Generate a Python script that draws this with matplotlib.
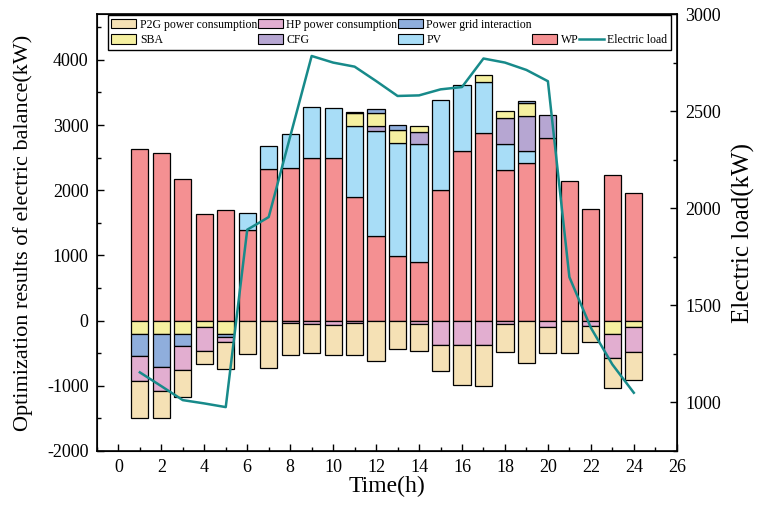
import numpy as np
import matplotlib
matplotlib.use('Agg')
import matplotlib.pyplot as plt
from matplotlib.patches import Patch
from matplotlib.lines import Line2D
from matplotlib.ticker import MultipleLocator

plt.rcParams.update({
    'font.family': ['Liberation Serif', 'DejaVu Serif'],
    'axes.unicode_minus': False,
})

# hours
hours = np.arange(1, 25)

# supply side (kW, positive)
wp = [2636, 2564, 2176, 1640, 1701, 1390, 2330, 2340, 2493, 2488, 1900, 1298,
      991, 904, 2003, 2605, 2881, 2314, 2411, 2809, 2135, 1716, 2227, 1957]
pv = [0, 0, 0, 0, 0, 255, 352, 521, 782, 772, 1084, 1618,
      1732, 1798, 1374, 1012, 777, 394, 194, 0, 0, 0, 0, 0]
cfg = [0, 0, 0, 0, 0, 0, 0, 0, 0, 0, 0, 62,
       0, 190, 0, 0, 0, 403, 537, 338, 0, 0, 0, 0]
# signed: + discharge / purchase, - charge / sale
sba = [-204, -204, -200, -102, -200, 0, 0, 0, 0, 0, 204, 203,
       204, 92, 0, 0, 107, 107, 200, 0, 0, 0, -204, -97]
grid = [-343, -506, -188, 0, -50, 0, 0, 0, 0, 0, 15, 72,
        77, 0, 0, 0, 0, 0, 20, 0, 0, 0, 0, 0]
# consumption side (kW, negative)
hp = [-373, -368, -368, -368, -77, 0, 0, -41, -56, -72, -41, 0,
      0, -51, -373, -373, -373, -51, 0, -92, 0, -82, -368, -378]
p2g = [-572, -414, -414, -194, -409, -516, -730, -480, -445, -449, -480, -623,
       -434, -419, -399, -614, -623, -429, -655, -409, -501, -250, -465, -434]

# electric load (kW, right axis)
load = [1155, 1084, 1012, 995, 976, 1890, 1955, 2370, 2785, 2751, 2730, 2656,
        2579, 2582, 2613, 2625, 2772, 2751, 2713, 2655, 1646, 1385, 1196, 1050]

colors = {
    'P2G power consumption': '#F5E1B5',
    'HP power consumption': '#E2AED0',
    'Power grid interaction': '#8FAEDC',
    'SBA': '#F5F0A0',
    'CFG': '#B6A6D2',
    'PV': '#A8DDF7',
    'WP': '#F49092',
}
line_color = '#178A8A'

fig = plt.figure(figsize=(7.57, 5.09), dpi=100)
ax = fig.add_axes([0.128, 0.114, 0.766, 0.858])

w = 0.8
bar_kw = dict(width=w, edgecolor='black', linewidth=0.9, zorder=2)

pos_base = np.zeros(24)
neg_base = np.zeros(24)

# positive stack: WP, PV, CFG, SBA(+), grid(+)
for name, vals in [('WP', wp), ('PV', pv), ('CFG', cfg)]:
    v = np.array(vals, dtype=float)
    m = v > 0
    ax.bar(hours[m], v[m], bottom=pos_base[m], color=colors[name], **bar_kw)
    pos_base += v

for name, vals in [('SBA', sba), ('Power grid interaction', grid)]:
    v = np.array(vals, dtype=float)
    p = np.clip(v, 0, None)
    m = p > 0
    ax.bar(hours[m], p[m], bottom=pos_base[m], color=colors[name], **bar_kw)
    pos_base += p

# negative stack: SBA(-), grid(-), HP, P2G
for name, vals in [('SBA', sba), ('Power grid interaction', grid),
                   ('HP power consumption', hp), ('P2G power consumption', p2g)]:
    v = np.array(vals, dtype=float)
    n = np.clip(v, None, 0)
    m = n < 0
    ax.bar(hours[m], n[m], bottom=neg_base[m], color=colors[name], **bar_kw)
    neg_base += n

ax.set_xlim(-1, 26)
ax.set_ylim(-2000, 4700)
ax.xaxis.set_major_locator(MultipleLocator(2))
ax.xaxis.set_minor_locator(MultipleLocator(1))
ax.yaxis.set_major_locator(MultipleLocator(1000))
ax.yaxis.set_minor_locator(MultipleLocator(500))
ax.tick_params(which='major', direction='in', length=5, width=1, labelsize=13, pad=6)
ax.tick_params(which='minor', direction='in', length=3, width=1)
ax.set_xlabel('Time(h)', fontsize=17, labelpad=0)
ax.set_ylabel('Optimization results of electric balance(kW)', fontsize=16, labelpad=10)
for s in ax.spines.values():
    s.set_linewidth(1.2)

ax2 = ax.twinx()
ax2.plot(hours, load, color=line_color, linewidth=1.8, zorder=5)
ax2.set_ylim(750, 3000)
ax2.yaxis.set_major_locator(MultipleLocator(500))
ax2.yaxis.set_minor_locator(MultipleLocator(250))
ax2.tick_params(which='major', direction='in', length=5, width=1, labelsize=13, pad=6)
ax2.tick_params(which='minor', direction='in', length=3, width=1)
ax2.set_ylabel('Electric load(kW)', fontsize=18, labelpad=8)

blank = Patch(visible=False)
handles = [
    Patch(facecolor=colors['P2G power consumption'], edgecolor='black', linewidth=0.8),
    Patch(facecolor=colors['SBA'], edgecolor='black', linewidth=0.8),
    Patch(facecolor=colors['HP power consumption'], edgecolor='black', linewidth=0.8),
    Patch(facecolor=colors['CFG'], edgecolor='black', linewidth=0.8),
    Patch(facecolor=colors['Power grid interaction'], edgecolor='black', linewidth=0.8),
    Patch(facecolor=colors['PV'], edgecolor='black', linewidth=0.8),
    blank,
    Patch(facecolor=colors['WP'], edgecolor='black', linewidth=0.8),
    blank,
    Line2D([0], [0], color=line_color, linewidth=1.8),
]
labels = ['P2G power consumption', 'SBA', 'HP power consumption', 'CFG',
          'Power grid interaction', 'PV', '', 'WP', '', 'Electric load']
leg = ax2.legend(handles, labels, ncol=5, loc='upper left',
                 bbox_to_anchor=(0.019, 0.998), fontsize=8.5, frameon=True,
                 fancybox=False, edgecolor='black', framealpha=1,
                 handlelength=2.1, handleheight=0.9, handletextpad=0.3,
                 columnspacing=0.05, labelspacing=0.3, borderpad=0.3,
                 borderaxespad=0)
leg.get_frame().set_linewidth(1.0)

fig.savefig('out.png', dpi=100)
